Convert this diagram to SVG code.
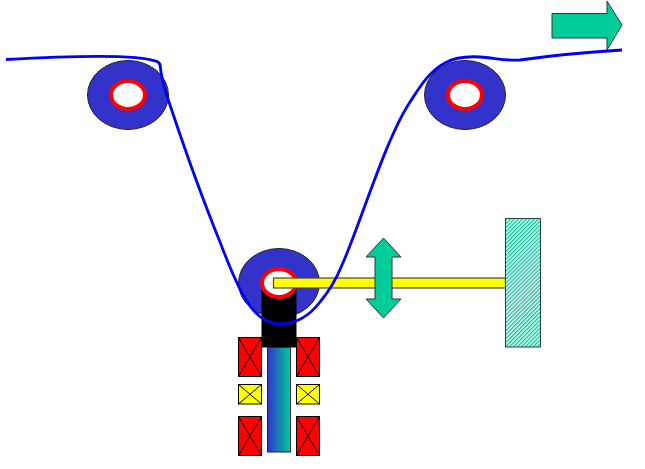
<svg xmlns="http://www.w3.org/2000/svg" width="645" height="469" viewBox="0 0 645 469">
<style>
.roller{fill:#3333cc;stroke:#222;stroke-width:1}
.ring{fill:#fff;stroke:#ff0000;stroke-width:4}
.red{fill:#ff0000;stroke:#000;stroke-width:1}
.yel{fill:#ffff00;stroke:#000;stroke-width:1}
.x{stroke:#000;stroke-width:1;fill:none}
.arrow{fill:#00cc99;stroke:#333;stroke-width:1}
</style>
<defs>
<linearGradient id="g" x1="0" x2="1" y1="0" y2="0"><stop offset="0" stop-color="#3333cc"/><stop offset="1" stop-color="#00cc99"/></linearGradient>
<pattern id="h" width="2.800" height="2.800" patternUnits="userSpaceOnUse" patternTransform="rotate(-45)"><rect width="2.800" height="2.800" fill="#fff"/><rect width="2.800" height="1.400" fill="#00cc99"/></pattern>
</defs>
<g id="roller-left"><ellipse class="roller" cx="128" cy="95" rx="40.500" ry="34.500"/><ellipse class="ring" cx="128" cy="95" rx="17" ry="14"/></g>
<g id="roller-right"><ellipse class="roller" cx="465" cy="95" rx="40.500" ry="34.500"/><ellipse class="ring" cx="465" cy="95" rx="17" ry="14"/></g>
<g id="roller-center"><ellipse class="roller" cx="279" cy="283" rx="40.500" ry="34.500"/></g>
<g id="core"><rect x="261.500" y="288" width="35" height="59.500" fill="#000"/></g>
<g id="ring-center"><ellipse class="ring" cx="279" cy="283" rx="17" ry="14"/></g>
<g id="shaft"><rect x="267.500" y="347.500" width="23" height="104.500" fill="url(#g)" stroke="#224" stroke-width="1"/></g>
<g id="coil-l1"><rect class="red" x="238.500" y="337.500" width="23" height="39"/><path class="x" d="M238.500 337.500L261.500 376.500M261.500 337.500L238.500 376.500"/></g>
<g id="coil-r1"><rect class="red" x="296.500" y="337.500" width="23" height="39"/><path class="x" d="M296.500 337.500L319.500 376.500M319.500 337.500L296.500 376.500"/></g>
<g id="coil-l2"><rect class="yel" x="238.500" y="384.500" width="23" height="19.500"/><path class="x" d="M238.500 384.500L261.500 404M261.500 384.500L238.500 404"/></g>
<g id="coil-r2"><rect class="yel" x="296.500" y="384.500" width="23" height="19.500"/><path class="x" d="M296.500 384.500L319.500 404M319.500 384.500L296.500 404"/></g>
<g id="coil-l3"><rect class="red" x="238.500" y="416.500" width="23" height="39"/><path class="x" d="M238.500 416.500L261.500 455.500M261.500 416.500L238.500 455.500"/></g>
<g id="coil-r3"><rect class="red" x="296.500" y="416.500" width="23" height="39"/><path class="x" d="M296.500 416.500L319.500 455.500M319.500 416.500L296.500 455.500"/></g>
<g id="bar"><rect x="273.500" y="278" width="232" height="10" fill="#ffff00" stroke="#444" stroke-width="1.200"/></g>
<g id="wall"><rect x="505.500" y="218.500" width="35" height="128.500" fill="url(#h)" stroke="#244" stroke-width="1"/></g>
<g id="arrow-vertical"><polygon class="arrow" points="383.500,238 401,257 392,257 392,299 401,299 383.500,318 366,299 375,299 375,257 366,257"/></g>
<g id="arrow-right"><polygon class="arrow" points="552,13.500 607,13.500 607,1 622,25 607,50 607,38 552,38"/></g>
<g id="connectors"><path d="M6 59.500C50 57 135 53 157 61.500C161 63 160 66 161 72C163 85 166 93 170 105C185 150 205 205 220 242C228 263 236 284 245 298C254 314 266 324 280 324C296 324 310 315 320 302C330 290 336 280 342 265C360 225 385 140 410 102C418 90 428 72 445 63C454 58 465 56 480 57C495 58 505 61 520 60C555 55 590 52 622 50" fill="none" stroke="#0000ff" stroke-width="2.800"/></g>
</svg>
